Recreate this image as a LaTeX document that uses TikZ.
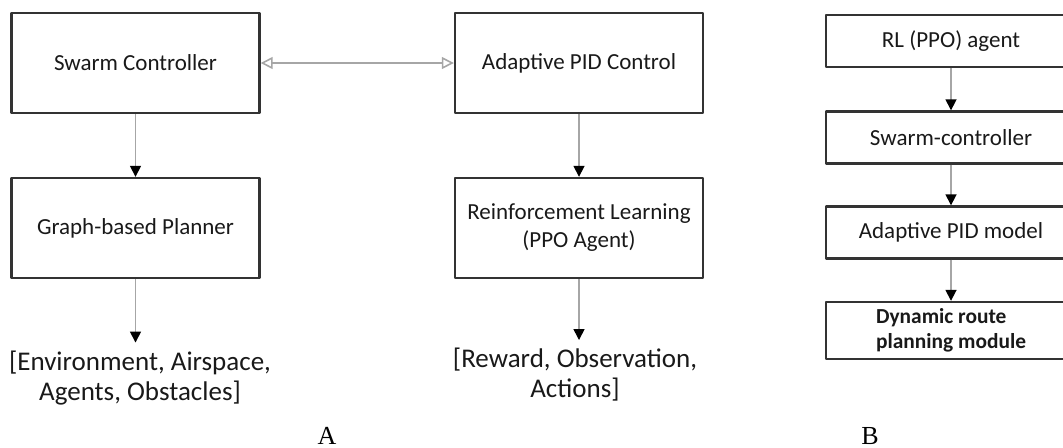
\documentclass[tikz,border=0pt]{standalone}
\usepackage{fontspec}
\setmainfont{Carlito}
\newfontfamily\capfont{Liberation Serif}
\usetikzlibrary{arrows.meta}

\begin{document}
\begin{tikzpicture}[x=0.5pt, y=-0.5pt, line join=round,
  box/.style={draw=black!80, line width=1.2pt, inner sep=2pt, align=center,
    text=black!90, font=\fontsize{11.5}{14}\selectfont},
  boxa/.style={box, minimum width=124pt, minimum height=50pt},
  boxb/.style={box, minimum width=125pt, minimum height=26pt},
  result/.style={align=center, text=black!90, inner sep=4pt,
    font=\fontsize{13.5}{15}\selectfont},
  flow/.style={draw=black!35, line width=0.8pt,
    -{Triangle[black, length=5.5pt, width=5.5pt]}},
  link/.style={draw=black!35, line width=0.8pt,
    {Triangle[open, length=6pt, width=6pt]}-{Triangle[open, length=6pt, width=6pt]}},
  tag/.style={anchor=base, inner sep=0pt, font=\capfont\fontsize{13}{15}\selectfont}]
  \useasboundingbox (0,0) rectangle (1063,447);
  \clip (0,0) rectangle (1063,447);

  % part A
  \node[boxa] (sc) at (135.5,63) {Swarm Controller};
  \node[boxa] (apc) at (579,63) {Adaptive PID Control};
  \node[boxa] (gp) at (135.5,228) {Graph-based Planner};
  \node[boxa] (rl) at (579,228) {Reinforcement Learning\\(PPO Agent)};
  \node[result] (env) at (140,378) {[Environment, Airspace,\\Agents, Obstacles]};
  \node[result] (rew) at (575,375) {[Reward, Observation,\\Actions]};
  \draw[link] (sc) -- (apc);
  \draw[flow] (sc) -- (gp);
  \draw[flow] (apc) -- (rl);
  \draw[flow] (gp.south) -- (gp.south |- env.north);
  \draw[flow] (rl.south) -- (rl.south |- rew.north);
  \node[tag] (capa) at (327,444) {A};

  % part B
  \node[boxb] (ppo) at (951,41) {RL (PPO) agent};
  \node[boxb] (swc) at (951,137.5) {Swarm-controller};
  \node[boxb] (pid) at (951,232.5) {Adaptive PID model};
  \node[boxb, minimum height=28.5pt, align=left,
    font=\bfseries\fontsize{10.7}{12.5}\selectfont] (drp) at (951,330.5)
    {Dynamic route\\planning module};
  \draw[flow] (ppo) -- (swc);
  \draw[flow] (swc) -- (pid);
  \draw[flow] (pid) -- (drp);
  \node[tag] (capb) at (870,444) {B};
\end{tikzpicture}
\end{document}
